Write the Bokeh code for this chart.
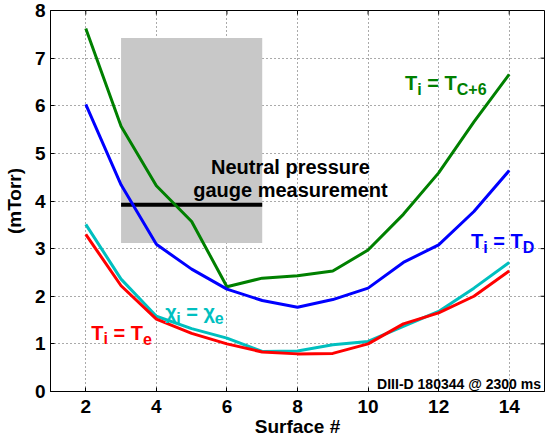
import math
from bokeh.plotting import figure
from bokeh.models import FixedTicker, Label
from bokeh.embed import file_html
from bokeh.resources import INLINE

# ---- data ----
surface = [2, 3, 4, 5, 6, 7, 8, 9, 10, 11, 12, 13, 14]
p_ti_tc6 = [7.62, 5.57, 4.32, 3.57, 2.20, 2.38, 2.43, 2.53, 2.97, 3.72, 4.59, 5.66, 6.66]
p_ti_td = [6.03, 4.34, 3.09, 2.57, 2.15, 1.91, 1.77, 1.93, 2.17, 2.71, 3.08, 3.78, 4.64]
p_chi = [3.51, 2.36, 1.58, 1.32, 1.12, 0.84, 0.85, 0.98, 1.05, 1.37, 1.68, 2.17, 2.71]
p_ti_te = [3.30, 2.22, 1.52, 1.22, 1.00, 0.83, 0.79, 0.80, 1.00, 1.42, 1.65, 2.00, 2.53]
gauge_surfaces = [3, 7]
gauge_low = 3.12
gauge_high = 7.42
gauge_mean = 3.92
x_ticks = [2, 4, 6, 8, 10, 12, 14]
y_ticks = [0, 1, 2, 3, 4, 5, 6, 7, 8]
x_lim = (1, 15)
y_lim = (0, 8)

FONT = "Liberation Sans"

p = figure(width=545, height=439, x_range=x_lim, y_range=y_lim,
           output_backend="svg", toolbar_location=None,
           min_border_left=50, min_border_right=1, min_border_top=10,
           min_border_bottom=46)
p.outline_line_color = "black"
p.outline_line_width = 1
p.background_fill_color = "white"
p.border_fill_color = "white"

# axes
p.xaxis.ticker = FixedTicker(ticks=x_ticks)
p.yaxis.ticker = FixedTicker(ticks=y_ticks)
p.xaxis.axis_label = "Surface #"
p.yaxis.axis_label = "(mTorr)"
for ax in (p.xaxis[0], p.yaxis[0]):
    ax.axis_label_text_font = FONT
    ax.axis_label_text_font_style = "bold"
    ax.axis_label_text_font_size = "19px"
    ax.axis_label_text_color = "black"
    ax.major_label_text_font = FONT
    ax.major_label_text_font_style = "bold"
    ax.major_label_text_font_size = "19px"
    ax.major_label_text_color = "black"
    ax.major_tick_in = 4
    ax.major_tick_out = 0
    ax.major_tick_line_color = "black"
    ax.minor_tick_line_color = None
    ax.axis_line_color = "black"
p.xaxis.major_label_standoff = 8
p.xaxis.axis_label_standoff = 0
p.yaxis.major_label_standoff = 5
p.yaxis.axis_label_standoff = 7

# grid
p.grid.grid_line_color = "#555555"
p.grid.grid_line_dash = "1 3"
p.grid.grid_line_width = 1
p.xgrid.ticker = FixedTicker(ticks=x_ticks)
p.ygrid.ticker = FixedTicker(ticks=y_ticks)

# mirrored ticks on right and top (box style)
p.ray(x=[x_lim[1]] * len(y_ticks), y=y_ticks, length=4, length_units="screen",
      angle=math.pi, line_color="black", line_width=1)
p.ray(x=x_ticks, y=[y_lim[1]] * len(x_ticks), length=4, length_units="screen",
      angle=-math.pi / 2, line_color="black", line_width=1)

# gauge measurement
p.quad(left=[gauge_surfaces[0]], right=[gauge_surfaces[1]], bottom=[gauge_low], top=[gauge_high],
       fill_color="#C8C8C8", line_color=None)
p.line(gauge_surfaces, [gauge_mean, gauge_mean], line_color="black", line_width=4)

# curves
p.line(surface, p_ti_tc6, line_color="#008000", line_width=3)
p.line(surface, p_ti_td, line_color="#0000FF", line_width=3)
p.line(surface, p_chi, line_color="#00BFBF", line_width=3)
p.line(surface, p_ti_te, line_color="#FF0000", line_width=3)

# labels
W = {'T': .611, 'i': .278, ' ': .278, '=': .584, 'C': .722, '+': .584, '6': .556,
     'D': .722, 'e': .556, 'χ': .556}


def rich_label(x, y, pieces, color, main=20, sub=16, drop=6):
    off = 0.0
    for txt, is_sub in pieces:
        size = sub if is_sub else main
        p.add_layout(Label(x=x, y=y, x_offset=off, y_offset=-drop if is_sub else 0,
                           text=txt, text_font=FONT, text_font_size=f"{size}px",
                           text_font_style="bold", text_color=color,
                           text_baseline="alphabetic", text_align="left"))
        off += sum(W[c] for c in txt) * size
        if is_sub or txt == "=":
            off += W[' '] * main


rich_label(11.05, 6.47, [("T", False), ("i", True), ("=", False), ("T", False), ("C+6", True)], "#008000")
rich_label(12.92, 3.15, [("T", False), ("i", True), ("=", False), ("T", False), ("D", True)], "#0000FF")
rich_label(4.25, 1.66, [("χ", False), ("i", True), ("=", False), ("χ", False), ("e", True)], "#00BFBF")
rich_label(2.155, 1.23, [("T", False), ("i", True), ("=", False), ("T", False), ("e", True)], "#FF0000")

for txt, yy in (("Neutral pressure", 4.72), ("gauge measurement", 4.24)):
    p.add_layout(Label(x=7.8, y=yy, text=txt, text_font=FONT, text_font_size="20px",
                       text_font_style="bold", text_color="black",
                       text_align="center", text_baseline="alphabetic"))

p.add_layout(Label(x=14.9, y=0.15, text="DIII-D 180344 @ 2300 ms", text_font=FONT,
                   text_font_size="14px", text_font_style="bold", text_color="black",
                   text_align="right", text_baseline="alphabetic"))

open("out.html", "w").write(file_html(p, INLINE))
